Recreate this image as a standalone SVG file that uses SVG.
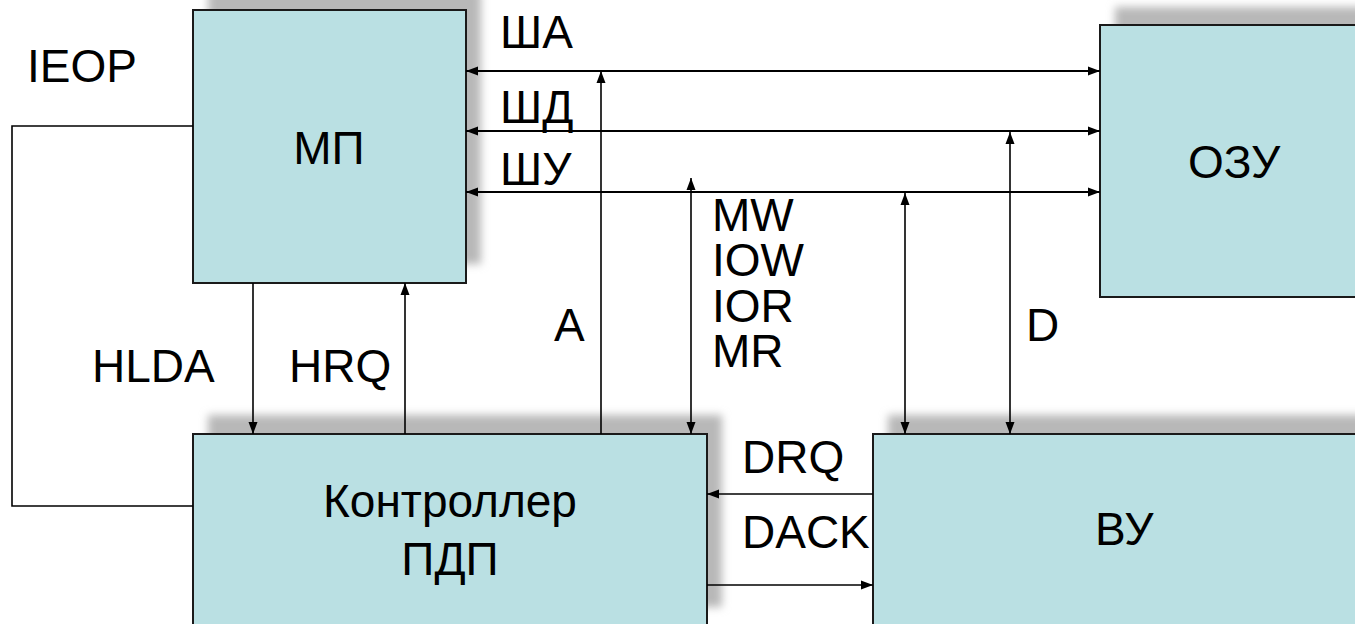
<svg xmlns="http://www.w3.org/2000/svg" width="1355" height="624" viewBox="0 0 1355 624">
<style>
.box{fill:#bae0e3;stroke:#1a1a1a;stroke-width:2}
.sh{fill:#b8b8b8;filter:url(#blur)}
.t{font-family:"Liberation Sans",Arial,sans-serif;font-size:46px;fill:#000}
.c{text-anchor:middle}
.bus{stroke:#000;stroke-width:2.2;fill:none}
.ln{stroke:#000;stroke-width:1.6;fill:none}
</style>
<defs>
<filter id="blur" x="-10%" y="-10%" width="120%" height="120%"><feGaussianBlur stdDeviation="4"/></filter>
<marker id="ah" markerUnits="userSpaceOnUse" markerWidth="12" markerHeight="10" refX="12" refY="5" orient="auto-start-reverse"><path d="M0,0.5 L12,5 L0,9.5 Z" fill="#000"/></marker>
</defs>
<rect width="1355" height="624" fill="#fff"/>
<g id="shadows">
<rect class="sh" x="208" y="-9" width="273" height="273"/>
<rect class="sh" x="1115" y="7" width="280" height="272"/>
<rect class="sh" x="208" y="415" width="514" height="192"/>
<rect class="sh" x="888" y="415" width="500" height="220"/>
</g>
<g id="mp"><rect class="box" x="193" y="10" width="273" height="273"/><text class="t c" x="329" y="164">МП</text></g>
<g id="ozu"><rect class="box" x="1100" y="25" width="280" height="272"/><text class="t" x="1188" y="178">ОЗУ</text></g>
<g id="kpdp"><rect class="box" x="193" y="434" width="514" height="220"/><text class="t c" x="450" y="517">Контроллер</text><text class="t c" x="450" y="575">ПДП</text></g>
<g id="vu"><rect class="box" x="873" y="434" width="520" height="220"/><text class="t" x="1095" y="545">ВУ</text></g>
<g id="connectors">
<line class="bus" x1="466" y1="71" x2="1100" y2="71" marker-start="url(#ah)" marker-end="url(#ah)"/>
<line class="bus" x1="466" y1="131" x2="1100" y2="131" marker-start="url(#ah)" marker-end="url(#ah)"/>
<line class="bus" x1="466" y1="192" x2="1100" y2="192" marker-start="url(#ah)" marker-end="url(#ah)"/>
<line class="ln" x1="601" y1="434" x2="601" y2="71" marker-end="url(#ah)"/>
<line class="ln" x1="691" y1="178" x2="691" y2="434" marker-start="url(#ah)" marker-end="url(#ah)"/>
<line class="ln" x1="905" y1="193" x2="905" y2="434" marker-start="url(#ah)" marker-end="url(#ah)"/>
<line class="ln" x1="1010" y1="132" x2="1010" y2="434" marker-start="url(#ah)" marker-end="url(#ah)"/>
<line class="ln" x1="253" y1="283" x2="253" y2="434" marker-end="url(#ah)"/>
<line class="ln" x1="405" y1="434" x2="405" y2="283" marker-end="url(#ah)"/>
<line class="ln" x1="873" y1="494" x2="707" y2="494" marker-end="url(#ah)"/>
<line class="ln" x1="707" y1="585" x2="873" y2="585" marker-end="url(#ah)"/>
<polyline class="ln" points="193,126 12,126 12,506 193,506"/>
</g>
<g id="labels">
<text class="t" x="27" y="82">IEOP</text>
<text class="t" x="500" y="48">ША</text>
<text class="t" x="500" y="123">ШД</text>
<text class="t" x="500" y="185">ШУ</text>
<text class="t" x="712" y="231">MW<tspan x="712" dy="45.3">IOW</tspan><tspan x="712" dy="45.3">IOR</tspan><tspan x="712" dy="45.3">MR</tspan></text>
<text class="t" x="554" y="341">A</text>
<text class="t" x="1026" y="341">D</text>
<text class="t" x="92" y="382">HLDA</text>
<text class="t" x="289" y="382">HRQ</text>
<text class="t" x="742" y="473">DRQ</text>
<text class="t" x="742" y="548">DACK</text>
</g>
</svg>
